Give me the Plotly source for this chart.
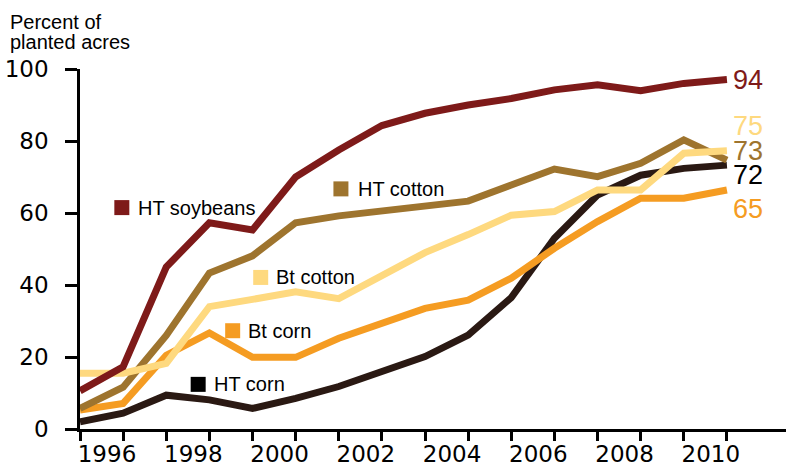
import plotly.graph_objects as go

years = list(range(1996, 2012))
ht_soybeans = [10.6, 17.3, 45.0, 57.3, 55.3, 70.0, 77.5, 84.3, 87.7, 90.0, 91.8, 94.2, 95.6, 94.0, 96.0, 97.1]
ht_cotton = [5.7, 11.6, 26.0, 43.3, 48.1, 57.3, 59.2, 60.6, 62.2, 63.3, 67.8, 72.2, 70.1, 73.8, 80.3, 74.7]
bt_cotton = [15.5, 15.5, 18.2, 34.0, 36.0, 38.1, 36.2, 42.7, 49.0, 54.0, 59.4, 60.4, 66.4, 66.4, 76.6, 77.3]
bt_corn = [5.3, 7.1, 20.5, 26.7, 19.9, 19.9, 25.2, 29.6, 33.5, 35.8, 41.9, 50.2, 57.6, 64.1, 64.1, 66.4]
ht_corn = [2.0, 4.4, 9.4, 8.1, 5.7, 8.5, 11.8, 16.2, 20.1, 26.1, 36.5, 53.0, 65.0, 70.5, 72.4, 73.3]

series_names = ["HT corn", "Bt corn", "HT cotton", "Bt cotton", "HT soybeans"]
series_values = [ht_corn, bt_corn, ht_cotton, bt_cotton, ht_soybeans]
end_labels = ["72", "65", "73", "75", "94"]

tick_labels = [str(y) if y % 2 == 0 else "" for y in years]
y_ticks = [0, 20, 40, 60, 80, 100]

# styling / placement (not data)
line_colors = ["#2a1913", "#f59c22", "#9e742e", "#fed97f", "#7e1a19"]
square_colors = ["#000000", "#f59c22", "#9e742e", "#fed97f", "#7e1a19"]
end_label_colors = ["#000000", "#f59c22", "#9e742e", "#fed97f", "#7e1a19"]
label_square_pos = [(1998.74, 12.4), (1999.54, 27.3), (2002.05, 66.7), (2000.19, 42.1), (1996.97, 61.5)]
label_text_x = [1999.06, 1999.84, 2002.39, 2000.5, 1997.3]
end_label_pos = [(2011.1, 70.6), (2011.1, 61.2), (2011.1, 77.3), (2011.1, 84.1), (2011.1, 97.0)]

TXT = "Liberation Sans, Arial, sans-serif"
TICK = "DejaVu Sans, sans-serif"

fig = go.Figure()
for name, vals, col in zip(series_names, series_values, line_colors):
    fig.add_trace(go.Scatter(x=years, y=vals, mode="lines", name=name,
                             line=dict(color=col, width=7), showlegend=False,
                             hoverinfo="skip"))

fig.add_trace(go.Scatter(
    x=[p[0] for p in label_square_pos], y=[p[1] for p in label_square_pos],
    mode="markers", marker=dict(symbol="square", size=15, color=square_colors,
                                line=dict(width=0)),
    showlegend=False, hoverinfo="skip"))

annotations = []
for name, (sx, sy), tx in zip(series_names, label_square_pos, label_text_x):
    annotations.append(dict(x=tx, y=sy, xref="x", yref="y", text=name,
                            showarrow=False, xanchor="left", yanchor="middle",
                            font=dict(family=TXT, size=20, color="#000000")))
for lab, (ex, ey), col in zip(end_labels, end_label_pos, end_label_colors):
    annotations.append(dict(x=ex, y=ey, xref="x", yref="y", text=lab,
                            showarrow=False, xanchor="left", yanchor="middle",
                            font=dict(family=TXT, size=27, color=col)))
annotations.append(dict(x=-0.102, y=1.131, xref="paper", yref="paper", text="Percent of",
                        showarrow=False, xanchor="left", yanchor="middle",
                        font=dict(family=TXT, size=20, color="#000000")))
annotations.append(dict(x=-0.102, y=1.076, xref="paper", yref="paper", text="planted acres",
                        showarrow=False, xanchor="left", yanchor="middle",
                        font=dict(family=TXT, size=20, color="#000000")))

fig.update_layout(
    width=786, height=468,
    margin=dict(l=80, r=0, t=69, b=39, pad=0, autoexpand=False),
    paper_bgcolor="white", plot_bgcolor="white",
    annotations=annotations,
    xaxis=dict(range=[1996, 2012.37], tickvals=years, ticktext=tick_labels,
               ticks="outside", ticklen=9, tickwidth=2.5, tickcolor="black",
               showline=True, linewidth=2.5, linecolor="black",
               showgrid=False, zeroline=False, ticklabelshift=27,
               ticklabelstandoff=-6, automargin=False,
               tickfont=dict(family=TICK, size=23, color="black")),
    yaxis=dict(range=[0, 100], tickvals=y_ticks,
               ticks="outside", ticklen=12, tickwidth=2.5, tickcolor="black",
               showline=True, linewidth=2.5, linecolor="black",
               showgrid=False, zeroline=False, ticklabelstandoff=12,
               automargin=False,
               tickfont=dict(family=TICK, size=23, color="black")),
)

fig.write_html("out.html")
